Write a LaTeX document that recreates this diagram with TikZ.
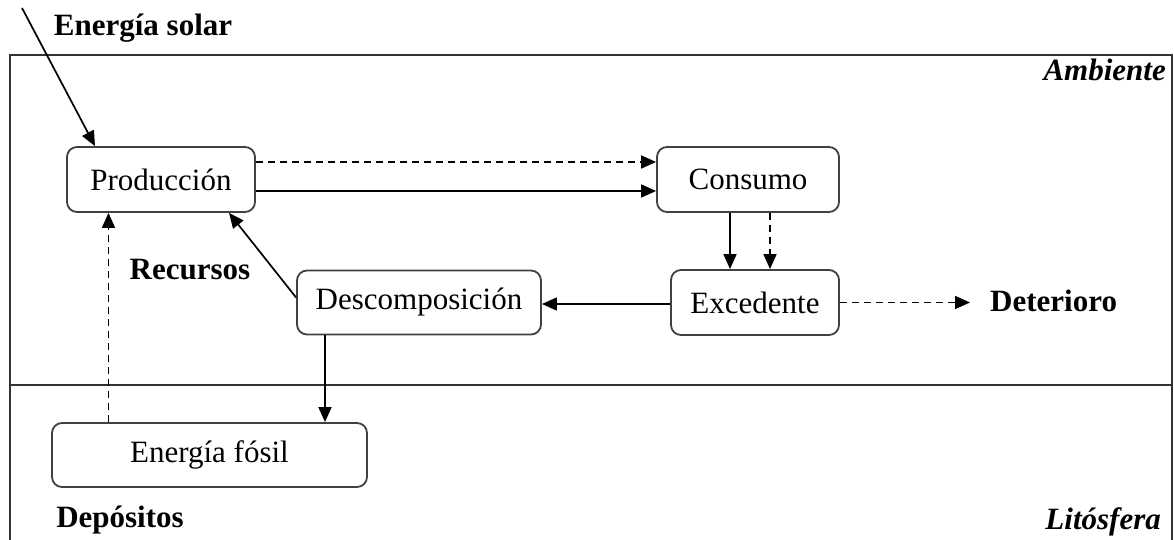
\documentclass[tikz,border=0pt]{standalone}
\usepackage{fontspec}
\setmainfont{Liberation Serif}
\usetikzlibrary{arrows.meta,calc}
\begin{document}
\begin{tikzpicture}[x=1pt,y=1pt,
  box/.style={draw=black!75, line width=1.8pt, rounded corners=10pt, fill=white,
    inner sep=0pt, font=\fontsize{31}{36}\selectfont},
  lbl/.style={font=\fontsize{31}{36}\selectfont\bfseries, inner sep=0pt},
  ilbl/.style={font=\fontsize{31}{36}\selectfont\bfseries\itshape, inner sep=0pt},
  arr/.style={line width=1.7pt, -{Triangle[length=15pt,width=13pt]}},
  darr/.style={arr, dash pattern=on 7pt off 5pt},
  frame/.style={line width=1.8pt, draw=black!80}]
\useasboundingbox (0,0) rectangle (1174,540);
% frame
\draw[frame] (10,0) -- (10,485) -- (1172,485) -- (1172,0);
\draw[frame] (10,155) -- (1172,155);
% boxes
\node[box, minimum width=188pt, minimum height=65pt] (prod) at (161,360.5) {Producción};
\node[box, minimum width=182pt, minimum height=65pt] (cons) at (748,360.5) {Consumo};
\node[box, minimum width=168pt, minimum height=65pt] (exc) at (755,237.5) {Excedente};
\node[box, minimum width=244pt, minimum height=64pt] (desc) at (419,237.5) {Descomposición};
\node[box, minimum width=315pt, minimum height=64pt] (fos) at (209.5,85) {Energía fósil};
% labels
\node[lbl] (sol) at (143,512) {Energía solar};
\node[lbl] (rec) at (190,270) {Recursos};
\node[lbl] (dep) at (120,20) {Depósitos};
\node[lbl, anchor=west] (det) at (990,239) {Deterioro};
\node[ilbl, anchor=east] (amb) at (1166,470) {Ambiente};
\node[ilbl, anchor=east] (lit) at (1161,18) {Litósfera};
\coordinate (solstart) at (22,532);
% connectors
\draw[arr] (solstart) -- ([xshift=-66pt]prod.north);
\draw[darr] ([yshift=17.5pt]prod.east) -- ([yshift=17.5pt]cons.west);
\draw[arr] ([yshift=-11.5pt]prod.east) -- ([yshift=-11.5pt]cons.west);
\draw[arr] ([xshift=-18pt]cons.south) -- ([xshift=-18pt]cons.south |- exc.north);
\draw[darr] ([xshift=22pt]cons.south) -- ([xshift=22pt]cons.south |- exc.north);
\draw[arr] ([yshift=-1.5pt]exc.west) -- ([yshift=-1.5pt]desc.east);
\draw[darr] (exc.east) -- ([xshift=-20pt]det.west |- exc.east);
\draw[arr] ([yshift=5pt]desc.west) -- ([xshift=68pt]prod.south);
\draw[arr] ([xshift=-94pt]desc.south) -- ([xshift=-94pt]desc.south |- fos.north);
\draw[darr] ([xshift=-101pt]fos.north) -- ([xshift=-101pt]fos.north |- prod.south);
\end{tikzpicture}
\end{document}
